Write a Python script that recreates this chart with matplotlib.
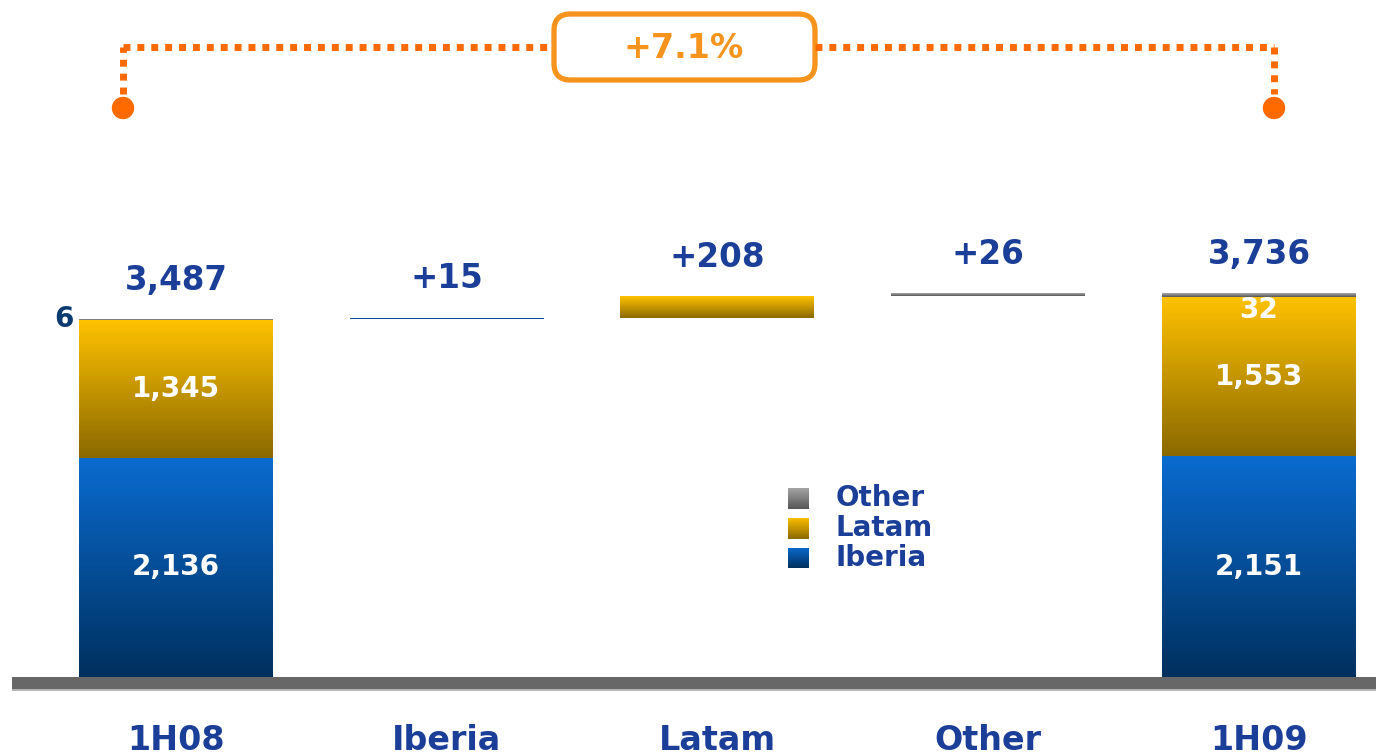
import numpy as np
import matplotlib
matplotlib.use("Agg")
import matplotlib.pyplot as plt
from matplotlib.colors import to_rgb
from matplotlib.patches import FancyBboxPatch, Circle
from matplotlib.lines import Line2D

# ---------------- data ----------------
categories = ['1H08', 'Iberia', 'Latam', 'Other', '1H09']
segments = ['Iberia', 'Latam', 'Other']
start_values = [2136, 1345, 6]     # 1H08 by segment
end_values = [2151, 1553, 32]      # 1H09 by segment
growth_label = '+7.1%'

# ---------------- style ----------------
W, H, DPI = 1376, 755, 100
BLUE_TXT = '#1B3F98'
NAVY_TXT = '#0B3A70'
ORANGE = '#FF6A00'
ORANGE_BOX = '#F7941D'
grad_colors = {
    'Iberia': ('#0A6BD0', '#00305E'),
    'Latam': ('#FFC200', '#8A6900'),
    'Other': ('#A8A8A8', '#565656'),
}

def vgrad(top, bottom, n=256):
    t = np.linspace(0, 1, n)[:, None]
    c0 = np.array(to_rgb(top)); c1 = np.array(to_rgb(bottom))
    return (c0 * (1 - t) + c1 * t)[:, None, :]

def mid(top, bottom):
    return tuple((np.array(to_rgb(top)) + np.array(to_rgb(bottom))) / 2)

fig = plt.figure(figsize=(W / DPI, H / DPI), dpi=DPI)
ax = fig.add_axes([0, 0, 1, 1])
ax.axis('off')

# pixel layout -> data limits
spacing_px = 270.75
first_px = 176
base_px = 677
k = 0.1026  # px per unit
xlim = (-first_px / spacing_px, (W - first_px) / spacing_px)
ylim = (-(H - base_px) / k, base_px / k)
bar_w = 194 / spacing_px

x = np.arange(len(categories))
deltas = [e - s for s, e in zip(start_values, end_values)]
total_start = sum(start_values)
total_end = sum(end_values)

def draw_bar(xpos, bottom, height, seg):
    top_c, bot_c = grad_colors[seg]
    b = ax.bar([xpos], [height], bottom=[bottom], width=bar_w,
               color=[mid(top_c, bot_c)], linewidth=0, zorder=2)[0]
    x0, w, y0, h = b.get_x(), b.get_width(), b.get_y(), b.get_height()
    if h * k >= 2:
        ax.imshow(vgrad(top_c, bot_c), extent=[x0, x0 + w, y0, y0 + h],
                  aspect='auto', origin='upper', interpolation='bilinear', zorder=3)
    return b

# 1H08 stacked
cum = 0
for seg, v in zip(segments, start_values):
    draw_bar(x[0], cum, v, seg)
    cum += v
# deltas
run = total_start
for i, (seg, d) in enumerate(zip(segments, deltas)):
    draw_bar(x[i + 1], run, d, seg)
    run += d
# 1H09 stacked
cum = 0
for seg, v in zip(segments, end_values):
    draw_bar(x[4], cum, v, seg)
    cum += v

# ---------------- labels ----------------
lab_kw = dict(fontweight='bold', ha='center', va='center', zorder=6)
ax.annotate(f'{total_start:,}', (x[0], total_start), xytext=(0, 28),
            textcoords='offset points', color=BLUE_TXT, fontsize=23.5, **lab_kw)
ax.annotate(f'{total_end:,}', (x[4], total_end), xytext=(0, 28),
            textcoords='offset points', color=BLUE_TXT, fontsize=23.5, **lab_kw)
run = total_start
for i, d in enumerate(deltas):
    run += d
    ax.annotate(f'+{d:,}', (x[i + 1], run), xytext=(0, 28),
                textcoords='offset points', color=BLUE_TXT, fontsize=23.5, **lab_kw)

# inner labels for big segments
for xi, vals in ((x[0], start_values), (x[4], end_values)):
    cum = 0
    for j, v in enumerate(vals[:2]):
        ax.text(xi, cum + v / 2, f'{v:,}', color='white', fontsize=20, **lab_kw)
        cum += v
# small "Other" values
ax.annotate(f'{start_values[2]:,}', (x[0] - bar_w / 2, total_start), xytext=(-4, 0),
            textcoords='offset points', color=NAVY_TXT, fontsize=20,
            fontweight='bold', ha='right', va='center')
ax.annotate(f'{end_values[2]:,}', (x[4], total_end), xytext=(0, -2),
            textcoords='offset points', color='white', fontsize=20,
            fontweight='bold', ha='center', va='top', zorder=6)

# category labels
for xi, c in zip(x, categories):
    ax.text(xi, -(740 - base_px) / k, c, color=BLUE_TXT, fontsize=24,
            fontweight='bold', ha='center', va='center')

# baseline
ax.axhspan(-12 / k, 0, xmin=12 / W, xmax=1, color='#676767', lw=0, zorder=4)
ax.axhspan(-14 / k, -12 / k, xmin=12 / W, xmax=1, color='#B5B5B5', lw=0, zorder=4)

ax.set_xlim(*xlim)
ax.set_ylim(*ylim)

# ---------------- growth bracket ----------------
def fx(px): return px / W
def fy(py): return 1 - py / H

dot_kw = dict(color=ORANGE, lw=5.0, linestyle=(0, (1, 1)), dash_capstyle='butt',
              transform=fig.transFigure)
yl = 47
fig.add_artist(Line2D([fx(123), fx(123)], [fy(94), fy(yl)], **dot_kw))
fig.add_artist(Line2D([fx(123), fx(552)], [fy(yl), fy(yl)], **dot_kw))
fig.add_artist(Line2D([fx(815), fx(1274)], [fy(yl), fy(yl)], **dot_kw))
fig.add_artist(Line2D([fx(1274), fx(1274)], [fy(yl), fy(94)], **dot_kw))
for cx in (123, 1274):
    fig.add_artist(Circle((cx, H - 108), 10.5, color=ORANGE,
                          transform=None))
box = FancyBboxPatch((fx(554), fy(80)), fx(815) - fx(554), fy(14) - fy(80),
                     boxstyle='round,pad=0,rounding_size=0.012',
                     transform=fig.transFigure, facecolor='white',
                     edgecolor=ORANGE_BOX, lw=3.8, mutation_aspect=W / H)
fig.add_artist(box)
fig.text(fx(684), fy(48), growth_label, color=ORANGE_BOX, fontsize=24,
         fontweight='bold', ha='center', va='center')

# ---------------- legend ----------------
leg_items = ['Other', 'Latam', 'Iberia']
leg_y = [498, 528, 558]
for name, yc in zip(leg_items, leg_y):
    la = fig.add_axes([fx(788), fy(yc + 10.5), 20 / W, 21 / H])
    top_c, bot_c = grad_colors[name]
    la.imshow(vgrad(top_c, bot_c), aspect='auto', origin='upper',
              extent=[0, 1, 0, 1], interpolation='bilinear')
    la.axis('off')
    fig.text(fx(836), fy(yc), name, color=BLUE_TXT, fontsize=20,
             fontweight='bold', ha='left', va='center')

fig.savefig('out.png', dpi=DPI, facecolor='white')
